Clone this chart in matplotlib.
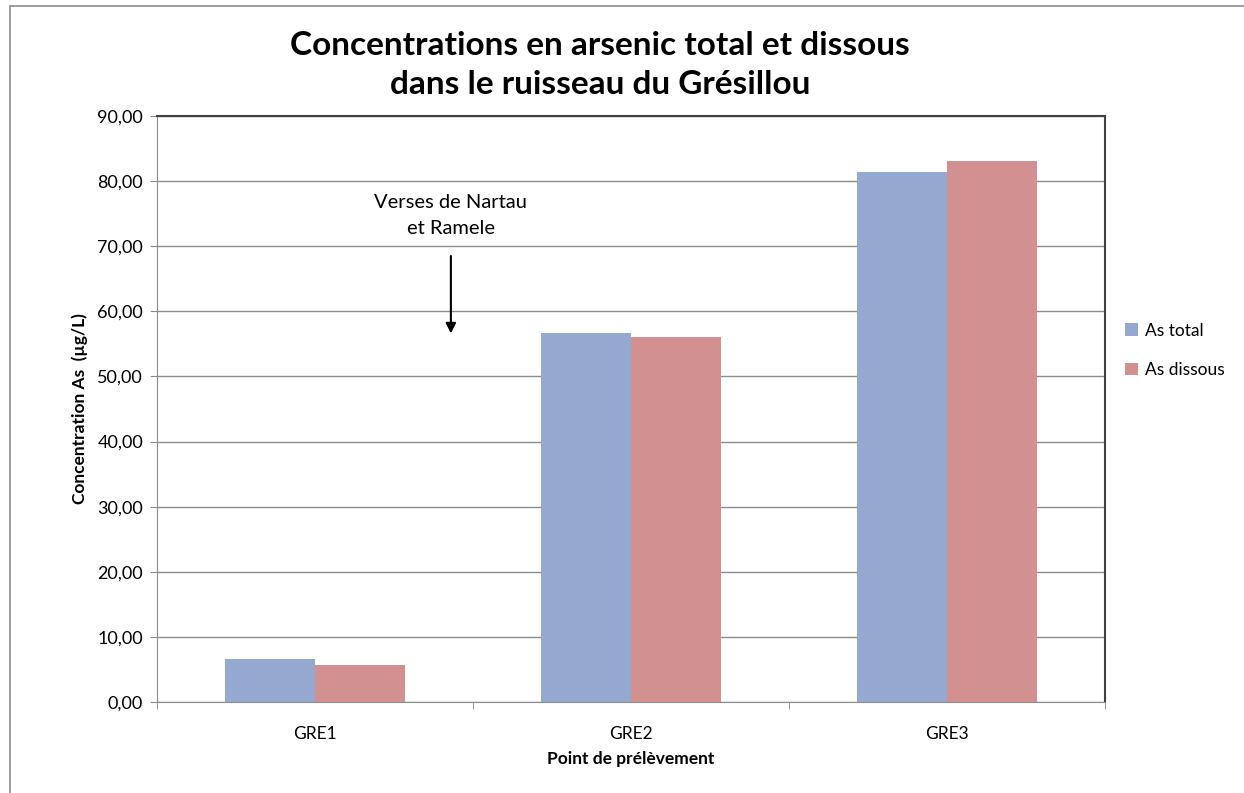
"""
Concentrations en arsenic total et dissous - ruisseau du Grésillou
"""

import matplotlib.pyplot as plt
from matplotlib.patches import Rectangle
import numpy as np

plt.rcParams['font.family'] = ['Lato', 'DejaVu Sans']

# Données
points = ['GRE1', 'GRE2', 'GRE3']
as_total = [6.6, 56.6, 81.35]
as_dissous = [5.7, 56.05, 83.05]
y_ticks = np.arange(0, 91, 10)

col_total = '#95A9D0'
col_dissous = '#D29190'
grid_col = '#8C8C8C'

fig = plt.figure(figsize=(12.44, 7.93), dpi=100)
ax = fig.add_axes([157 / 1244, 1 - 702 / 793, (1105 - 157) / 1244, (702 - 116) / 793])

x = np.arange(len(points))
w = 0.285
ax.bar(x - w / 2, as_total, width=w, color=col_total, label='As total', zorder=3)
ax.bar(x + w / 2, as_dissous, width=w, color=col_dissous, label='As dissous', zorder=3)

ax.set_xlim(-0.5, 2.5)
ax.set_ylim(0, 90)
ax.set_yticks(y_ticks)
ax.set_yticklabels([f'{v:.2f}'.replace('.', ',') for v in y_ticks], fontsize=13)
ax.yaxis.grid(True, color=grid_col, linewidth=1, zorder=0)

# Graduations x entre les catégories
ax.set_xticks(x)
ax.set_xticklabels(points, fontsize=12.5)
ax.tick_params(axis='x', length=0, pad=17)
ax.set_xticks([-0.5, 0.5, 1.5, 2.5], minor=True)
ax.tick_params(axis='x', which='minor', length=5, color=grid_col)
ax.tick_params(axis='y', length=5, color=grid_col, pad=5)

for s in ['left', 'bottom']:
    ax.spines[s].set_color(grid_col)
for s in ['top', 'right']:
    ax.spines[s].set_color('#404040')
    ax.spines[s].set_linewidth(1.5)

ax.set_xlabel('Point de prélèvement', fontsize=12.5, fontweight='bold', labelpad=7)
ax.set_ylabel('Concentration As  (µg/L)', fontsize=12.5, fontweight='bold', labelpad=7)

fig.text(600 / 1244, 1 - 65 / 793, 'Concentrations en arsenic total et dissous\ndans le ruisseau du Grésillou',
         ha='center', va='center', fontsize=24, fontweight='bold', linespacing=1.4)

# Annotation
ax.annotate('', xy=(0.43, 56.6), xytext=(0.43, 68.5),
            arrowprops=dict(arrowstyle='-|>', color='black', lw=1.5, mutation_scale=15,
                            shrinkA=0, shrinkB=0), zorder=5)
ax.text(0.43, 74.7, 'Verses de Nartau\net Ramele', ha='center', va='center', fontsize=14.5,
        linespacing=1.6, bbox=dict(facecolor='white', edgecolor='none', pad=1), zorder=4)

leg = ax.legend(loc='center left', bbox_to_anchor=(1.005, 0.6), frameon=False, fontsize=12.5,
                handlelength=0.75, handleheight=0.75, handletextpad=0.4, labelspacing=1.35)

# Cadre du graphique
fig.patches.append(Rectangle((10 / 1244, -0.1), 1.2, 1 - 6 / 793 + 0.1, transform=fig.transFigure,
                             fill=False, edgecolor='#8C8C8C', linewidth=1.2))

plt.savefig('out.png', dpi=100)
plt.close()
